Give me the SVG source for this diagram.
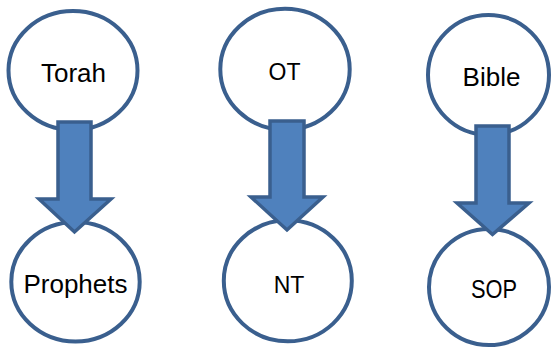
<svg xmlns="http://www.w3.org/2000/svg" width="552" height="349" viewBox="0 0 552 349">
<style>
.node ellipse{fill:#fff;stroke:#3A5F8E;stroke-width:4}
.lbl{font-family:"Liberation Sans",Arial,sans-serif;font-size:26px;fill:#000;text-anchor:middle}
.lbl2{font-family:"Liberation Sans",Arial,sans-serif;font-size:23px;fill:#000;text-anchor:middle}
.arrow{fill:#4F81BD;stroke:#3A5F8E;stroke-width:3.5;stroke-linejoin:miter}
</style>
<rect width="552" height="349" fill="#fff"/>
<g id="torah" class="node"><ellipse cx="73" cy="70.5" rx="64.5" ry="59.5"/><text class="lbl" x="73.5" y="82">Torah</text></g>
<g id="prophets" class="node"><ellipse cx="75.5" cy="281.7" rx="64.2" ry="59.7"/><text class="lbl" x="75.5" y="293">Prophets</text></g>
<g id="ot" class="node"><ellipse cx="285" cy="69.2" rx="64.7" ry="60.5"/><text class="lbl2" x="284.5" y="80">OT</text></g>
<g id="nt" class="node"><ellipse cx="287.8" cy="280.8" rx="64" ry="60.5"/><text class="lbl2" x="289" y="293">NT</text></g>
<g id="bible" class="node"><ellipse cx="488.5" cy="75" rx="60.5" ry="60"/><text class="lbl" x="491.5" y="86">Bible</text></g>
<g id="sop" class="node"><ellipse cx="489" cy="287" rx="60" ry="58"/><text class="lbl" x="494" y="298" textLength="46" lengthAdjust="spacingAndGlyphs">SOP</text></g>
<g id="connectors">
<polygon class="arrow" points="58,122 91,122 91,199 111,199 74.5,232 39,199 58,199"/>
<polygon class="arrow" points="270,121 304,121 304,197 323,197 287,230 251,197 270,197"/>
<polygon class="arrow" points="476,126 509,126 509,203 529,203 492.5,234.5 457,203 476,203"/>
</g>
</svg>
